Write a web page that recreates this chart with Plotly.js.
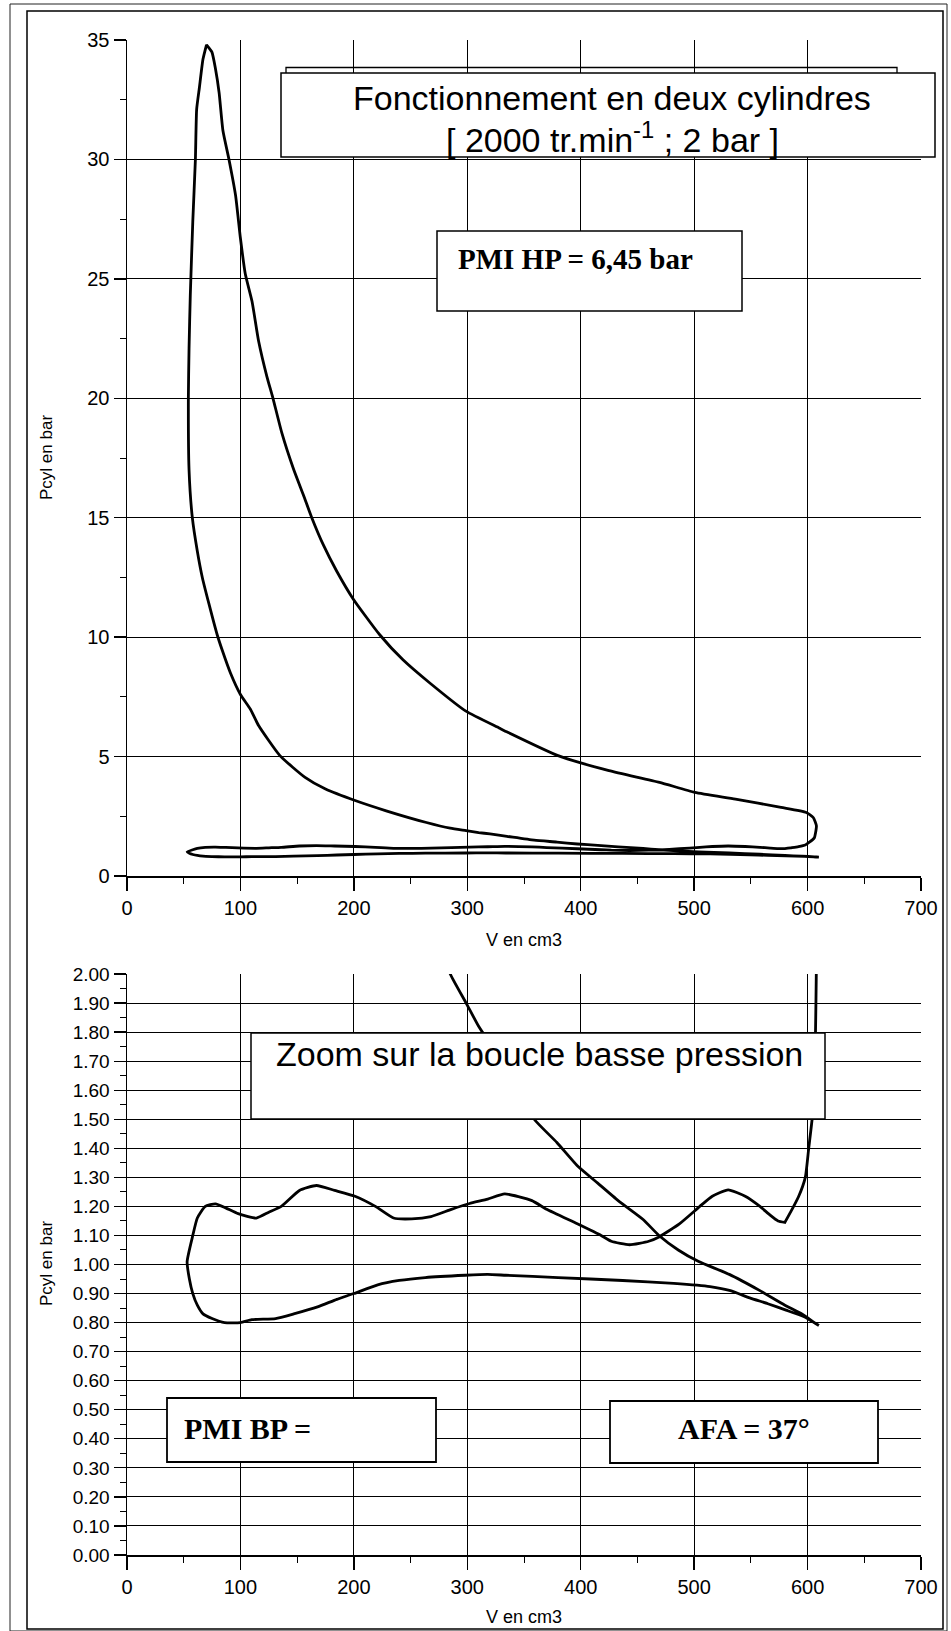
<!DOCTYPE html>
<html>
<head>
<meta charset="utf-8">
<script src="https://cdn.plot.ly/plotly-3.0.1.min.js"></script>
<style>
html,body{margin:0;padding:0;background:#fff;}
#chart{width:951px;height:1631px;}
</style>
</head>
<body>
<div id="chart"></div>
<script>
// ---- Data (V in cm3, P in bar) ----
// Intake stroke (TDC -> BDC)
const V_intake = [53, 55, 58, 62, 67, 75, 86, 100, 110, 131, 147, 168, 185, 200, 221, 240, 263, 298, 318, 334, 380, 437, 482, 514, 532, 549, 565, 581, 597, 605, 610];
const P_intake = [1.01, 0.95, 0.90, 0.86, 0.83, 0.814, 0.80, 0.80, 0.81, 0.814, 0.83, 0.854, 0.88, 0.90, 0.93, 0.945, 0.955, 0.963, 0.966, 0.963, 0.955, 0.945, 0.935, 0.924, 0.91, 0.885, 0.865, 0.843, 0.82, 0.802, 0.79];
// Compression stroke (BDC -> peak)
const V_compression = [610, 606, 595, 580, 558, 531, 504, 486, 469, 455, 433, 415, 397, 379, 359, 335, 320, 310, 299, 285, 264, 228.5, 201.7, 175, 157, 134.8, 116, 108.8, 100, 91.2, 83.9, 79.5, 72.2, 66.4, 62, 57.6, 54.7, 54.1, 54.7, 55.8, 58, 60.3, 61.4, 63.8, 67, 70.1];
const P_compression = [0.79, 0.80, 0.83, 0.86, 0.91, 0.966, 1.01, 1.05, 1.10, 1.155, 1.22, 1.28, 1.34, 1.42, 1.50, 1.66, 1.76, 1.82, 1.90, 2.00, 2.24, 2.73, 3.15, 3.64, 4.13, 5.04, 6.3, 6.98, 7.6, 8.5, 9.46, 10.1, 11.4, 12.5, 13.6, 15.0, 17.0, 20.0, 22.1, 24.3, 27.4, 30.0, 32.1, 33.0, 34.2, 34.8];
// Expansion stroke (peak -> BDC)
const V_expansion = [70.1, 74.8, 78, 81.2, 84.6, 89.9, 95.7, 100, 104.3, 110.2, 116, 123.4, 128.7, 136.5, 146.8, 155.6, 162.9, 173, 184.8, 199.4, 222.8, 243.3, 266.7, 298.8, 328, 335.6, 380, 424.9, 469.5, 500.7, 536.4, 576.6, 598.9, 605, 607.8, 607, 606, 604, 601, 598, 592, 585, 580];
const P_expansion = [34.8, 34.5, 33.8, 32.8, 31.2, 30.0, 28.5, 26.7, 25.2, 24.06, 22.4, 20.9, 20.0, 18.55, 17.04, 15.94, 15.0, 13.87, 12.77, 11.6, 10.1, 9.05, 8.09, 6.9, 6.2, 6.02, 5.04, 4.41, 3.92, 3.50, 3.22, 2.87, 2.66, 2.45, 2.10, 1.80, 1.60, 1.50, 1.40, 1.30, 1.233, 1.18, 1.145];
// Exhaust stroke (BDC -> TDC)
const V_exhaust = [580, 574, 567, 558, 545, 530, 516, 505, 487, 469, 460, 443, 427, 418, 397, 370, 357, 333, 318, 302, 286, 268, 251, 235, 219, 201, 183, 167, 152, 136, 125, 114, 98, 87, 78, 69, 62, 58, 53];
const P_exhaust = [1.145, 1.15, 1.17, 1.20, 1.235, 1.257, 1.235, 1.20, 1.14, 1.095, 1.08, 1.068, 1.08, 1.10, 1.14, 1.19, 1.22, 1.243, 1.225, 1.21, 1.19, 1.165, 1.157, 1.16, 1.20, 1.235, 1.255, 1.272, 1.255, 1.20, 1.18, 1.16, 1.175, 1.195, 1.209, 1.20, 1.16, 1.10, 1.01];

const xTickVals = [0, 100, 200, 300, 400, 500, 600, 700];
const xTickText = ['0', '100', '200', '300', '400', '500', '600', '700'];

const chartTitleLine1 = 'Fonctionnement en deux cylindres';
const chartTitleLine2 = '[ 2000 tr.min<sup>-1</sup> ; 2 bar ]';
const zoomTitle = 'Zoom sur la boucle basse pression';
const pmiHpText = 'PMI HP = 6,45 bar';
const pmiBpText = 'PMI BP =';
const afaText = 'AFA = 37°';
const xTitle = 'V en cm3';
const yTitle = 'Pcyl en bar';

// ---- assemble the cycle ----
const V_cycle = [].concat(V_intake, V_compression, V_expansion, V_exhaust);
const P_cycle = [].concat(P_intake, P_compression, P_expansion, P_exhaust);

// ---- layout geometry (pixels) ----
const W = 951, H = 1631;
const ML = 127, MR = 30, MT = 40, MB = 76;
const PW = W - ML - MR, PH = H - MT - MB;
const px = x => (x - ML) / PW;
const py = y => (H - MB - y) / PH;
const topDomain = [py(876), 1];
const botDomain = [0, py(974)];

const sans = 'Liberation Sans, Arial, Helvetica, sans-serif';
const serif = 'Liberation Serif, Times New Roman, Times, serif';

const line = {color: '#000', width: 2.8, shape: 'spline', smoothing: 0.5};
const traces = [
  {x: V_cycle, y: P_cycle, xaxis: 'x', yaxis: 'y', mode: 'lines', line: line, showlegend: false, hoverinfo: 'skip'},
  {x: V_cycle, y: P_cycle, xaxis: 'x2', yaxis: 'y2', mode: 'lines', line: line, showlegend: false, hoverinfo: 'skip'}
];

function xAxis(anchor) {
  return {
    anchor: anchor, domain: [0, 1], range: [0, 700], tickvals: xTickVals, ticktext: xTickText,
    ticks: 'outside', ticklen: 13, tickwidth: 1.3, tickcolor: '#000',
    showgrid: true, gridcolor: '#000', gridwidth: 1, zeroline: false,
    showline: true, linecolor: '#000', linewidth: 1.5,
    tickfont: {family: sans, size: 20, color: '#000'},
    minor: {dtick: 50, ticks: 'outside', ticklen: 6, tickcolor: '#000', tickwidth: 1, showgrid: false},
    fixedrange: true
  };
}

function ann(x, y, text, font, extra) {
  return Object.assign({xref: 'paper', yref: 'paper', x: px(x), y: py(y), xanchor: 'center', yanchor: 'middle', text: text, showarrow: false, font: font}, extra || {});
}
function box(x0, y0, x1, y1, w) {
  return {type: 'rect', xref: 'paper', yref: 'paper', x0: px(x0), x1: px(x1), y0: py(y1), y1: py(y0), fillcolor: '#fff', line: {color: '#000', width: w}, layer: 'above'};
}

const layout = {
  width: W, height: H,
  margin: {l: ML, r: MR, t: MT, b: MB},
  paper_bgcolor: '#fff', plot_bgcolor: '#fff',
  showlegend: false,
  xaxis: xAxis('y'),
  xaxis2: xAxis('y2'),
  yaxis: {
    domain: topDomain, range: [0, 35], dtick: 5, tick0: 0,
    ticks: 'outside', ticklen: 12, tickwidth: 1.3, tickcolor: '#000',
    showgrid: true, gridcolor: '#000', gridwidth: 1, zeroline: false,
    showline: true, linecolor: '#000', linewidth: 1.5,
    tickfont: {family: sans, size: 20, color: '#000'},
    minor: {dtick: 2.5, ticks: 'outside', ticklen: 6, tickcolor: '#000', tickwidth: 1, showgrid: false},
    fixedrange: true
  },
  yaxis2: {
    domain: botDomain, range: [0, 2], dtick: 0.1, tick0: 0, tickformat: '.2f',
    ticks: 'outside', ticklen: 12, tickwidth: 1.3, tickcolor: '#000',
    showgrid: true, gridcolor: '#000', gridwidth: 1, zeroline: false,
    showline: true, linecolor: '#000', linewidth: 1.5,
    tickfont: {family: sans, size: 19, color: '#000'},
    minor: {dtick: 0.05, ticks: 'outside', ticklen: 6, tickcolor: '#000', tickwidth: 1, showgrid: false},
    fixedrange: true
  },
  shapes: [
    // page frames
    {type: 'rect', xref: 'paper', yref: 'paper', x0: px(10), x1: px(947), y0: py(4), y1: py(1631), line: {color: '#222', width: 1}, layer: 'above'},
    {type: 'rect', xref: 'paper', yref: 'paper', x0: px(27), x1: px(943), y0: py(11), y1: py(1629), line: {color: '#000', width: 1.5}, layer: 'above'},
    // title box back edge + box
    {type: 'path', xref: 'paper', yref: 'paper', path: 'M' + px(286) + ',' + py(73) + ' L' + px(286) + ',' + py(67.5) + ' L' + px(897) + ',' + py(67.5) + ' L' + px(897) + ',' + py(73), line: {color: '#000', width: 1.3}, layer: 'above'},
    box(281, 73, 935, 157, 1.5),
    box(437, 231, 742, 311, 1.5),     // PMI HP
    box(251, 1033, 825, 1119, 1.5),   // Zoom
    box(167, 1398, 436, 1462, 1.8),   // PMI BP
    box(610, 1401, 878, 1463, 1.8)    // AFA
  ],
  annotations: [
    ann(612, 98, chartTitleLine1, {family: sans, size: 34, color: '#000'}),
    ann(612, 137, chartTitleLine2, {family: sans, size: 34, color: '#000'}),
    ann(575, 259, '<b>' + pmiHpText + '</b>', {family: serif, size: 29, color: '#000'}),
    ann(539, 1054, zoomTitle, {family: sans, size: 34, color: '#000'}),
    ann(182, 1428, '<b>' + pmiBpText + '</b>', {family: serif, size: 30, color: '#000'}, {xanchor: 'left'}),
    ann(744, 1428, '<b>' + afaText + '</b>', {family: serif, size: 30, color: '#000'}),
    ann(524, 940, xTitle, {family: sans, size: 18, color: '#000'}),
    ann(524, 1617, xTitle, {family: sans, size: 18, color: '#000'}),
    ann(46, 458, yTitle, {family: sans, size: 17, color: '#000'}, {textangle: -90}),
    ann(46, 1264, yTitle, {family: sans, size: 17, color: '#000'}, {textangle: -90})
  ]
};

Plotly.newPlot('chart', traces, layout, {staticPlot: true, displayModeBar: false});
</script>
</body>
</html>
